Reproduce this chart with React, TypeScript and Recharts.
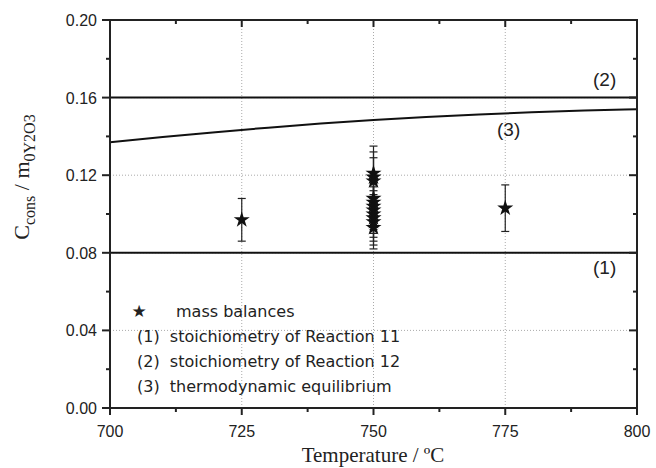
import {
  ComposedChart,
  ErrorBar,
  Line,
  ReferenceLine,
  Scatter,
  XAxis,
  YAxis,
  ZAxis,
} from "recharts";

// axis ticks (majors every other entry)
const xTicks = [700, 712.5, 725, 737.5, 750, 762.5, 775, 787.5, 800];
const yTicks = [0, 0.02, 0.04, 0.06, 0.08, 0.1, 0.12, 0.14, 0.16, 0.18, 0.2];
const xMajor = [700, 725, 750, 775, 800];
const yMajor = [0, 0.04, 0.08, 0.12, 0.16, 0.2];

// mass balance measurements
const massX = [725, 750, 750, 750, 750, 750, 750, 750, 750, 750, 750, 750, 775];
const massY = [0.097, 0.121, 0.119, 0.117, 0.108, 0.106, 0.104, 0.102, 0.1, 0.098, 0.096, 0.093, 0.103];
const massErr = [0.011, 0.014, 0.013, 0.012, 0.012, 0.012, 0.012, 0.012, 0.012, 0.012, 0.012, 0.011, 0.012];

// (3) thermodynamic equilibrium curve
const eqX = [700, 710, 720, 730, 740, 750, 760, 770, 780, 790, 800];
const eqY = [0.137, 0.1397, 0.1422, 0.1445, 0.1466, 0.1484, 0.15, 0.1513, 0.1524, 0.1533, 0.154];

// (1) and (2) stoichiometry levels
const stoichY = [0.08, 0.16];

const legendItems = [
  "(1)  stoichiometry of Reaction 11",
  "(2)  stoichiometry of Reaction 12",
  "(3)  thermodynamic equilibrium",
];

const massData = massX.map((x, i) => ({ x, y: massY[i], err: massErr[i] }));
const eqData = eqX.map((x, i) => ({ x, eq: eqY[i] }));

// layout
const W = 656;
const H = 468;
const M = { top: 20, right: 19, left: 0, bottom: 0 };
const YW = 110;
const XH = 60;
const plotW = W - M.left - M.right - YW;
const plotH = H - M.top - M.bottom - XH;

const tickFont = { fontFamily: "Liberation Sans, Arial", fontSize: 16, fill: "#222" };
const grid = "#aaa";
const ink = "#222";

const isMajorX = (v: number) => xMajor.includes(v);
const isMajorY = (v: number) => yMajor.some((m) => Math.abs(m - v) < 1e-9);

// bottom ticks point out, mirrored top ticks point in
const BottomTick = (p: any) => {
  const major = isMajorX(p.payload.value);
  const len = major ? 7 : 4;
  const top = p.y - plotH;
  return (
    <g>
      <line x1={p.x} x2={p.x} y1={p.y} y2={p.y + len} stroke={ink} strokeWidth={2} />
      <line x1={p.x} x2={p.x} y1={top} y2={top + len} stroke={ink} strokeWidth={2} />
      {major && (
        <text x={p.x} y={p.y + 29} textAnchor="middle" {...tickFont}>
          {p.payload.value}
        </text>
      )}
    </g>
  );
};

const LeftTick = (p: any) => {
  const major = isMajorY(p.payload.value);
  const len = major ? 8 : 4;
  const right = p.x + plotW;
  return (
    <g>
      <line x1={p.x - len} x2={p.x} y1={p.y} y2={p.y} stroke={ink} strokeWidth={2} />
      <line x1={right - len} x2={right} y1={p.y} y2={p.y} stroke={ink} strokeWidth={2} />
      {major && (
        <text x={p.x - 13} y={p.y + 6} textAnchor="end" {...tickFont}>
          {p.payload.value.toFixed(2)}
        </text>
      )}
    </g>
  );
};

const note = (left: number, top: number, text: string) => (
  <div
    style={{
      position: "absolute",
      left,
      top,
      fontFamily: "Liberation Sans, Arial",
      fontSize: 19,
      color: ink,
      lineHeight: "22px",
    }}
  >
    {text}
  </div>
);

export default function App() {
  return (
    <div style={{ position: "absolute", left: 0, top: 0, width: W, height: H, background: "#fff" }}>
      <ComposedChart width={W} height={H} data={eqData} margin={M}>
        <XAxis
          dataKey="x"
          type="number"
          domain={[700, 800]}
          ticks={xTicks}
          interval={0}
          height={XH}
          tickSize={0}
          tickMargin={0}
          tick={BottomTick}
          axisLine={{ stroke: ink, strokeWidth: 2 }}
          allowDataOverflow
        />
        <YAxis
          type="number"
          domain={[0, 0.2]}
          ticks={yTicks}
          interval={0}
          width={YW}
          tickSize={0}
          tickMargin={0}
          tick={LeftTick}
          axisLine={{ stroke: ink, strokeWidth: 2 }}
          allowDataOverflow
        />
        <ZAxis range={[80, 80]} />

        {xMajor.slice(1, -1).map((v) => (
          <ReferenceLine key={"gx" + v} x={v} stroke={grid} strokeDasharray="1 2" />
        ))}
        {yMajor.slice(1, -1).map((v) => (
          <ReferenceLine key={"gy" + v} y={v} stroke={grid} strokeDasharray="1 2" />
        ))}
        {stoichY.map((v) => (
          <ReferenceLine key={"s" + v} y={v} stroke="#111" strokeWidth={2} />
        ))}

        <Line
          dataKey="eq"
          type="monotone"
          stroke="#111"
          strokeWidth={2}
          dot={false}
          isAnimationActive={false}
        />
        <Scatter data={massData} dataKey="y" shape="star" fill="#111" isAnimationActive={false}>
          <ErrorBar dataKey="err" direction="y" width={4} stroke={ink} strokeWidth={1.2} />
        </Scatter>
      </ComposedChart>

      {/* plot frame */}
      <div
        style={{
          position: "absolute",
          left: M.left + YW - 1,
          top: M.top - 1,
          width: plotW + 2,
          height: plotH + 2,
          border: "2px solid " + ink,
          boxSizing: "border-box",
        }}
      />

      {note(593, 69, "(2)")}
      {note(497, 119, "(3)")}
      {note(593, 257, "(1)")}

      <div style={{ position: "absolute", left: 124, top: 299, fontFamily: "DejaVu Sans", fontSize: 16, color: ink, lineHeight: "25px" }}>
        <div>
          <span style={{ display: "inline-block", width: 30, textAlign: "center", fontSize: 17 }}>★</span>
          <span style={{ marginLeft: 22 }}>mass balances</span>
        </div>
        {legendItems.map((t) => (
          <div key={t} style={{ paddingLeft: 13, whiteSpace: "pre" }}>{t}</div>
        ))}
      </div>

      <div
        style={{
          position: "absolute",
          left: 373,
          top: 455,
          transform: "translate(-50%, -50%)",
          fontFamily: "Liberation Serif",
          fontSize: 21,
          color: ink,
          whiteSpace: "nowrap",
        }}
      >
        Temperature / ºC
      </div>
      <div
        style={{
          position: "absolute",
          left: 24,
          top: 177,
          transform: "translate(-50%, -50%) rotate(-90deg)",
          fontFamily: "Liberation Serif",
          fontSize: 22,
          color: ink,
          whiteSpace: "nowrap",
        }}
      >
        C<sub style={{ fontSize: 16 }}>cons</sub> / m<sub style={{ fontSize: 16 }}>0Y2O3</sub>
      </div>
    </div>
  );
}
